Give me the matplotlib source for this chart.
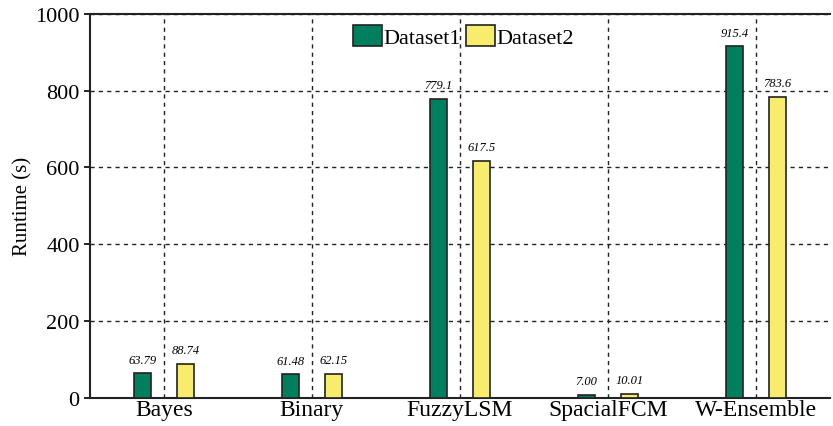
import numpy as np
import matplotlib
matplotlib.use("Agg")
import matplotlib.pyplot as plt

plt.rcParams['font.family'] = ['Liberation Serif', 'DejaVu Serif']

# data
methods = ["Bayes", "Binary", "FuzzyLSM", "SpacialFCM", "W-Ensemble"]
dataset1 = [63.79, 61.48, 779.1, 7.00, 915.4]
dataset2 = [88.74, 62.15, 617.5, 10.01, 783.6]
labels1 = ["63.79", "61.48", "779.1", "7.00", "915.4"]
labels2 = ["88.74", "62.15", "617.5", "10.01", "783.6"]

green = "#007F5F"
yellow = "#F7EC6C"

fig = plt.figure(figsize=(8.33, 4.27), dpi=100)
ax = fig.add_axes([0.108, 0.066, 0.888, 0.899])

x = np.arange(len(methods))
w = 0.115
off = 0.145
ax.bar(x - off, dataset1, w, color=green, edgecolor="#222222", linewidth=1.2, label="Dataset1", zorder=3)
ax.bar(x + off, dataset2, w, color=yellow, edgecolor="#222222", linewidth=1.2, label="Dataset2", zorder=3)

# value labels above bars
for xi, v, t in zip(x - off, dataset1, labels1):
    ax.text(xi, v + 20, t, ha="center", va="bottom", fontsize=9, style="italic")
for xi, v, t in zip(x + off, dataset2, labels2):
    ax.text(xi, v + 20, t, ha="center", va="bottom", fontsize=9, style="italic")

ax.set_xlim(-0.5, 4.5)
ax.set_ylim(0, 1000)
ax.set_yticks([0, 200, 400, 600, 800, 1000])
ax.set_xticks(x)
ax.set_xticklabels(methods)
ax.tick_params(axis="y", labelsize=16, direction="out", length=4, width=1.2)
ax.tick_params(axis="x", labelsize=17, length=0, pad=1)
ax.set_ylabel("Runtime (s)", fontsize=15, labelpad=2)

ax.grid(True, linestyle=(0, (3, 3)), color="#222222", linewidth=1.0, zorder=0)
for s in ["left", "top", "bottom"]:
    ax.spines[s].set_linewidth(1.5)
    ax.spines[s].set_color("#222222")
ax.spines["right"].set_visible(False)

ax.legend(loc="upper center", bbox_to_anchor=(0.505, 1.0), ncol=2, frameon=False,
          fontsize=16, handlelength=1.3, handleheight=1.1, handletextpad=0.1,
          columnspacing=0.2, borderaxespad=0.1)

fig.savefig("out.png", dpi=100)
